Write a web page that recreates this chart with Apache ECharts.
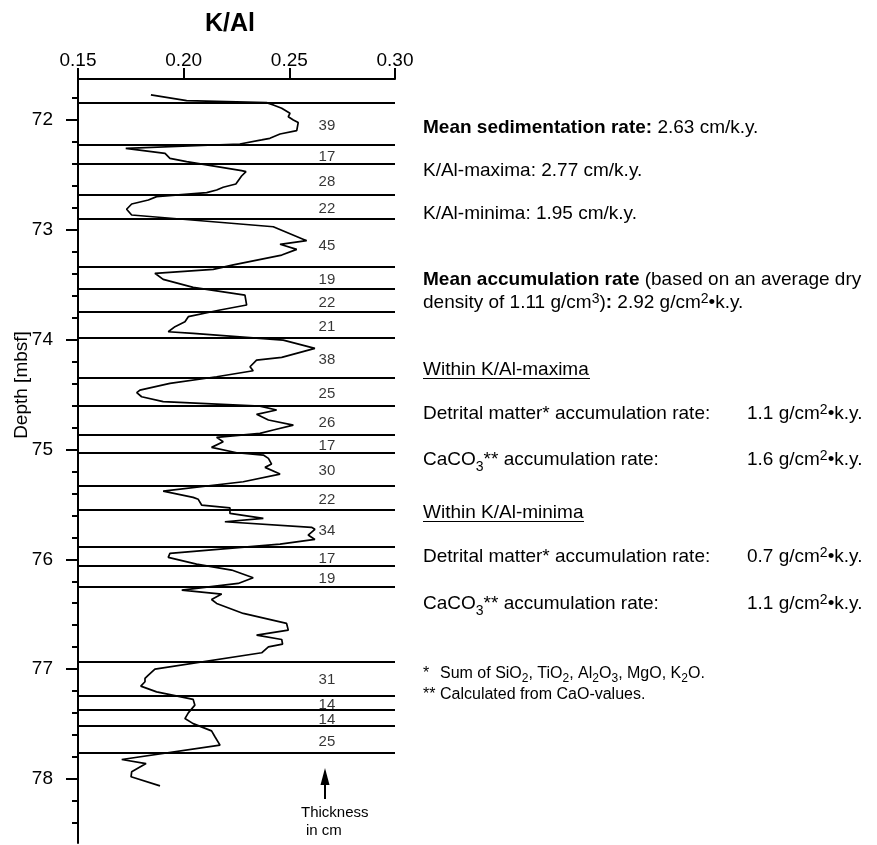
<!DOCTYPE html>
<html>
<head>
<meta charset="utf-8">
<script src="https://cdn.jsdelivr.net/npm/echarts@6/dist/echarts.min.js"></script>
<style>
html, body { margin: 0; padding: 0; background: #fff; }
#chart { width: 877px; height: 845px; }
</style>
</head>
<body>
<div id="chart"></div>
<script>
// K/Al curve (depth in mbsf, ratio)
var depth = [71.772, 71.824, 71.842, 71.863, 71.893, 71.939, 71.970, 72.000, 72.024, 72.097,
    72.128, 72.167, 72.182, 72.219, 72.258, 72.304, 72.349, 72.380, 72.461, 72.470,
    72.510, 72.583, 72.613, 72.638, 72.662, 72.698, 72.729, 72.765, 72.813, 72.865,
    72.972, 73.099, 73.132, 73.178, 73.230, 73.320, 73.360, 73.396, 73.451, 73.524,
    73.594, 73.685, 73.730, 73.791, 73.837, 73.882, 73.928, 73.943, 74.004, 74.080,
    74.162, 74.186, 74.247, 74.283, 74.338, 74.398, 74.459, 74.483, 74.520, 74.565,
    74.605, 74.641, 74.680, 74.732, 74.778, 74.823, 74.853, 74.890, 74.930, 74.981,
    75.030, 75.051, 75.081, 75.133, 75.163, 75.224, 75.294, 75.379, 75.436, 75.454,
    75.506, 75.531, 75.582, 75.628, 75.658, 75.709, 75.727, 75.779, 75.819, 75.862,
    75.946, 75.983, 76.044, 76.098, 76.168, 76.220, 76.281, 76.317, 76.366, 76.402,
    76.493, 76.584, 76.645, 76.690, 76.730, 76.772, 76.797, 76.851, 77.000, 77.055,
    77.085, 77.115, 77.155, 77.207, 77.276, 77.328, 77.398, 77.450, 77.496, 77.562,
    77.616, 77.692, 77.823, 77.860, 77.935, 77.980, 78.063];
var kal = [0.1845, 0.2014, 0.2392, 0.2424, 0.2464, 0.2503, 0.2495, 0.2519, 0.2542, 0.2535,
    0.2456, 0.2408, 0.2369, 0.2266, 0.1726, 0.1912, 0.1935, 0.2014, 0.2274, 0.2295,
    0.2274, 0.2247, 0.2187, 0.2156, 0.2109, 0.1872, 0.1833, 0.1754, 0.1730, 0.1754,
    0.2424, 0.2582, 0.2456, 0.2535, 0.2464, 0.2235, 0.2140, 0.1864, 0.1903, 0.2045,
    0.2290, 0.2298, 0.2172, 0.2022, 0.2006, 0.1959, 0.1927, 0.2045, 0.2471, 0.2621,
    0.2464, 0.2345, 0.2314, 0.2329, 0.2156, 0.1935, 0.1793, 0.1778, 0.1801, 0.1903,
    0.2361, 0.2440, 0.2345, 0.2401, 0.2519, 0.2424, 0.2361, 0.2156, 0.2187, 0.2132,
    0.2251, 0.2377, 0.2401, 0.2416, 0.2385, 0.2456, 0.2282, 0.1903, 0.2045, 0.2069,
    0.2085, 0.2219, 0.2219, 0.2377, 0.2195, 0.2605, 0.2621, 0.2589, 0.2621, 0.2456,
    0.1935, 0.1927, 0.2061, 0.2227, 0.2329, 0.2258, 0.1991, 0.2180, 0.2132, 0.2156,
    0.2282, 0.2487, 0.2495, 0.2345, 0.2464, 0.2468, 0.2401, 0.2369, 0.1864, 0.1833,
    0.1817, 0.1817, 0.1797, 0.1872, 0.2045, 0.2053, 0.2022, 0.2006, 0.2045, 0.2132,
    0.2148, 0.2172, 0.1707, 0.1822, 0.1754, 0.1751, 0.1888];

// layer boundaries (mbsf) and thickness of each layer in cm (null = unlabelled)
var boundaries = [71.842, 72.228, 72.401, 72.683, 72.902, 73.345, 73.539, 73.755, 73.976, 74.347,
    74.602, 74.869, 75.030, 75.331, 75.552, 75.895, 76.062, 76.250, 76.927, 77.237,
    77.373, 77.519, 77.762];
var thickness = [39, 17, 28, 22, 45, 19, 22, 21, 38, 25, 26, 17, 30, 22, 34, 17, 19, null, 31, 14, 14, 25];
var thicknessX = 0.2678;

var xTicks = [0.15, 0.20, 0.25, 0.30];
var majorTicks = [72, 73, 74, 75, 76, 77, 78];
var minorTicks = [71.8, 72.2, 72.4, 72.6, 72.8, 73.2, 73.4, 73.6, 73.8, 74.2, 74.4, 74.6, 74.8,
    75.2, 75.4, 75.6, 75.8, 76.2, 76.4, 76.6, 76.8, 77.2, 77.4, 77.6, 77.8, 78.2, 78.4];

var FONT = "'Liberation Sans', Arial, Helvetica, sans-serif";

var curve = depth.map(function (d, i) { return [kal[i], d]; });
var layerLabels = [];
for (var i = 0; i < thickness.length; i++) {
    if (thickness[i] != null) {
        layerLabels.push([thicknessX, (boundaries[i] + boundaries[i + 1]) / 2, thickness[i]]);
    }
}

function st(size, extra) {
    var s = { fontSize: size, fontFamily: FONT, fill: '#000', fontWeight: 'normal' };
    for (var k in extra) s[k] = extra[k];
    return s;
}
function richText(x, y, text, size, lh) {
    return {
        type: 'text', x: x, y: y, silent: true,
        style: {
            text: text, fontSize: size, fontFamily: FONT, fill: '#000',
            align: 'left', verticalAlign: 'middle',
            rich: {
                n: st(size, { lineHeight: lh }),
                b: st(size, { lineHeight: lh, fontWeight: 'bold' }),
                sup: st(Math.round(size * 0.75), { verticalAlign: 'top' }),
                sub: st(Math.round(size * 0.75), { verticalAlign: 'bottom' })
            }
        }
    };
}

var L = 423, V = 747;
var graphics = [
    { type: 'text', x: 230, y: 24, silent: true,
      style: { text: 'K/Al', fontSize: 25, fontWeight: 'bold', fontFamily: FONT, fill: '#000', align: 'center', verticalAlign: 'middle' } },
    { type: 'text', x: 22, y: 385, rotation: Math.PI / 2, silent: true,
      style: { text: 'Depth [mbsf]', fontSize: 19, fontFamily: FONT, fill: '#000', align: 'center', verticalAlign: 'middle' } },

    richText(L, 128, '{b|Mean sedimentation rate:}{n| 2.63 cm/k.y.}', 19, 22),
    richText(L, 171, '{n|K/Al-maxima: 2.77 cm/k.y.}', 19, 22),
    richText(L, 214, '{n|K/Al-minima: 1.95 cm/k.y.}', 19, 22),
    richText(L, 280, '{b|Mean accumulation rate}{n| (based on an average dry}', 19, 22),
    richText(L, 303, '{n|density of 1.11 g/cm}{sup|3}{n|)}{b|:}{n| 2.92 g/cm}{sup|2}{n|•k.y.}', 19, 22),

    richText(L, 370, '{n|Within K/Al-maxima}', 19, 22),
    richText(L, 414, '{n|Detrital matter* accumulation rate:}', 19, 22),
    richText(V, 414, '{n|1.1 g/cm}{sup|2}{n|•k.y.}', 19, 22),
    richText(L, 460, '{n|CaCO}{sub|3}{n|** accumulation rate:}', 19, 28),
    richText(V, 460, '{n|1.6 g/cm}{sup|2}{n|•k.y.}', 19, 22),

    richText(L, 513, '{n|Within K/Al-minima}', 19, 22),
    richText(L, 557, '{n|Detrital matter* accumulation rate:}', 19, 22),
    richText(V, 557, '{n|0.7 g/cm}{sup|2}{n|•k.y.}', 19, 22),
    richText(L, 604, '{n|CaCO}{sub|3}{n|** accumulation rate:}', 19, 28),
    richText(V, 604, '{n|1.1 g/cm}{sup|2}{n|•k.y.}', 19, 22),

    richText(L, 674, '{n|*}', 16, 18),
    richText(440, 674, '{n|Sum of SiO}{sub|2}{n|, TiO}{sub|2}{n|, Al}{sub|2}{n|O}{sub|3}{n|, MgO, K}{sub|2}{n|O.}', 16, 22),
    richText(L, 695, '{n|**}', 16, 18),
    richText(440, 695, '{n|Calculated from CaO-values.}', 16, 18),

    { type: 'line', silent: true, shape: { x1: L, y1: 378.5, x2: 590, y2: 378.5 }, style: { stroke: '#000', lineWidth: 1.2 } },
    { type: 'line', silent: true, shape: { x1: L, y1: 521.5, x2: 584, y2: 521.5 }, style: { stroke: '#000', lineWidth: 1.2 } },

    // arrow + note
    { type: 'polygon', silent: true, shape: { points: [[325, 768], [320.5, 785], [329.5, 785]] }, style: { fill: '#000' } },
    { type: 'line', silent: true, shape: { x1: 325, y1: 782, x2: 325, y2: 799 }, style: { stroke: '#000', lineWidth: 2 } },
    { type: 'text', x: 301, y: 813, silent: true,
      style: { text: 'Thickness', fontSize: 15, fontFamily: FONT, fill: '#000', align: 'left', verticalAlign: 'middle' } },
    { type: 'text', x: 306, y: 831, silent: true,
      style: { text: 'in cm', fontSize: 15, fontFamily: FONT, fill: '#000', align: 'left', verticalAlign: 'middle' } }
];

var axisColor = { color: '#000', width: 2 };
var option = {
    animation: false,
    backgroundColor: '#fff',
    grid: { left: 78, top: 79, width: 317, height: 764, containLabel: false },
    xAxis: {
        type: 'value', position: 'top', min: 0.15, max: 0.30,
        axisLine: { show: true, lineStyle: axisColor },
        axisTick: { show: true, inside: false, length: 11, lineStyle: axisColor, customValues: xTicks },
        axisLabel: { customValues: xTicks, margin: 9, fontSize: 19, fontFamily: FONT, color: '#000',
            formatter: function (v) { return v.toFixed(2); } },
        splitLine: { show: false }
    },
    yAxis: [
        {
            type: 'value', inverse: true, min: 71.627, max: 78.583, position: 'left',
            axisLine: { show: true, lineStyle: axisColor },
            axisTick: { show: true, length: 12, lineStyle: axisColor, customValues: majorTicks },
            axisLabel: { customValues: majorTicks, margin: 25, fontSize: 19, fontFamily: FONT, color: '#000',
                padding: [10, 0, 0, 0], formatter: function (v) { return String(Math.round(v)); } },
            splitLine: { show: false }
        },
        {
            type: 'value', inverse: true, min: 71.627, max: 78.583, position: 'left', offset: 0,
            axisLine: { show: false },
            axisTick: { show: true, length: 6, lineStyle: axisColor, customValues: minorTicks },
            axisLabel: { show: false },
            splitLine: { show: false }
        }
    ],
    series: [
        {
            type: 'line', xAxisIndex: 0, yAxisIndex: 0,
            data: curve, symbol: 'none', silent: true,
            lineStyle: { color: '#000', width: 1.7 },
            markLine: {
                silent: true, symbol: 'none',
                label: { show: false },
                lineStyle: { color: '#000', width: 2, type: 'solid' },
                data: boundaries.map(function (b) { return { yAxis: b }; })
            }
        },
        {
            type: 'scatter', xAxisIndex: 0, yAxisIndex: 0,
            data: layerLabels, symbolSize: 0, silent: true,
            label: { show: true, position: 'inside', offset: [0, 2], fontSize: 15, fontFamily: FONT, color: '#000',
                textBorderWidth: 0, formatter: function (p) { return p.value[2]; } }
        }
    ],
    graphic: graphics
};

var chart = echarts.init(document.getElementById('chart'));
chart.setOption(option);
</script>
</body>
</html>
